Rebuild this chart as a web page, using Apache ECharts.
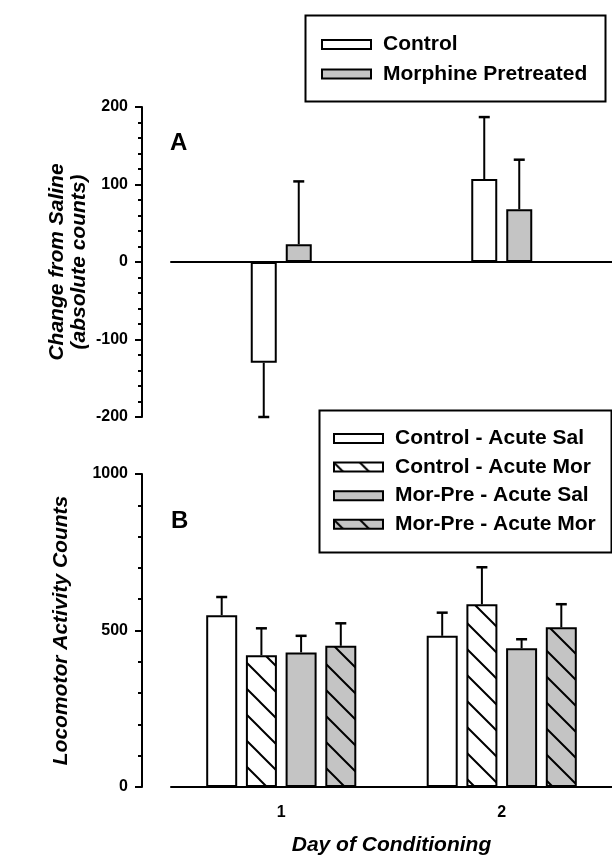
<!DOCTYPE html>
<html>
<head>
<meta charset="utf-8">
<script src="https://cdn.jsdelivr.net/npm/echarts@6/dist/echarts.min.js"></script>
<style>html,body{margin:0;padding:0;background:#fff;}#c{width:612px;height:857px;}</style>
</head>
<body>
<div id="c"></div>
<script>
// ---- data ----
const days = ['1', '2'];
// Panel A: change from saline (absolute counts)
const aControl = [-130, 107];
const aControlErr = [70, 80];
const aMorphine = [23, 68];
const aMorphineErr = [81, 64];
// Panel B: locomotor activity counts
const bCtrlSal = [549, 483];
const bCtrlSalErr = [58, 74];
const bCtrlMor = [421, 584];
const bCtrlMorErr = [86, 118];
const bMorSal = [430, 443];
const bMorSalErr = [53, 29];
const bMorMor = [451, 510];
const bMorMorErr = [72, 74];
const yTicksA = [-200, -100, 0, 100, 200];
const yTicksB = [0, 500, 1000];

const FONT = '"Liberation Sans", Arial, Helvetica, sans-serif';
const GRAY = '#c4c4c4';

function hatch(bg) {
  const s = 26;
  const c = document.createElement('canvas');
  c.width = s; c.height = s;
  const g = c.getContext('2d');
  g.fillStyle = bg; g.fillRect(0, 0, s, s);
  g.strokeStyle = '#000'; g.lineWidth = 2;
  g.beginPath();
  g.moveTo(-4, -4); g.lineTo(s + 4, s + 4);
  g.moveTo(-6, s - 6); g.lineTo(6, s + 6);
  g.moveTo(s - 6, -6); g.lineTo(s + 6, 6);
  g.stroke();
  return { image: c, repeat: 'repeat' };
}

const axisLineStyle = { color: '#000', width: 2 };
const tickLabel = { fontFamily: FONT, fontSize: 16, fontWeight: 'bold', color: '#000' };
const titleStyle = { fontFamily: FONT, fontSize: 21, fontWeight: 'bold', fontStyle: 'italic', color: '#000', lineHeight: 22 };

const A_W = 26, A_GAP = 9, B_W = 31, B_GAP = 8.7;

function barSeries(name, gi, values, color, w, gap) {
  return {
    name: name, type: 'bar', xAxisIndex: gi, yAxisIndex: gi, data: values,
    barWidth: w, barGap: (gap / w * 100) + '%',
    itemStyle: { color: color, borderColor: '#000', borderWidth: 2 },
    z: 2
  };
}

function errSeries(gi, values, errs, idx, n, w, gap) {
  return {
    type: 'custom', xAxisIndex: gi, yAxisIndex: gi, z: 3,
    data: values.map((v, i) => [i, v, errs[i]]),
    renderItem: function (params, api) {
      const cat = api.value(0), v = api.value(1), e = api.value(2);
      const total = n * w + (n - 1) * gap;
      const dx = -total / 2 + idx * (w + gap) + w / 2;
      const p0 = api.coord([cat, v]);
      const p1 = api.coord([cat, v + (v < 0 ? -e : e)]);
      const x = p0[0] + dx;
      return {
        type: 'group', children: [
          { type: 'line', shape: { x1: x, y1: p0[1], x2: x, y2: p1[1] }, style: { stroke: '#000', lineWidth: 2 } },
          { type: 'line', shape: { x1: x - 5.5, y1: p1[1], x2: x + 5.5, y2: p1[1] }, style: { stroke: '#000', lineWidth: 2.5 } }
        ]
      };
    }
  };
}

const legendText = { fontFamily: FONT, fontSize: 21, fontWeight: 'bold', color: '#000', lineHeight: 20, padding: [0, 0, 0, 7] };

const option = {
  animation: false,
  backgroundColor: '#fff',
  grid: [
    { left: 171, top: 107, width: 448, height: 310 },
    { left: 171, top: 474, width: 448, height: 314 }
  ],
  xAxis: [
    { type: 'category', gridIndex: 0, data: days,
      axisLine: { onZero: true, lineStyle: axisLineStyle },
      axisTick: { show: false }, axisLabel: { show: false }, splitLine: { show: false } },
    { type: 'category', gridIndex: 1, data: days,
      axisLine: { lineStyle: axisLineStyle },
      axisTick: { alignWithLabel: true, length: 7, lineStyle: { color: '#000', width: 2 } },
      axisLabel: Object.assign({ margin: 18 }, tickLabel),
      name: 'Day of Conditioning', nameLocation: 'middle', nameGap: 47, nameMoveOverlap: false, nameTextStyle: titleStyle }
  ],
  yAxis: [
    { type: 'value', gridIndex: 0, min: yTicksA[0], max: yTicksA[yTicksA.length - 1], interval: 100, offset: 29,
      axisLine: { show: true, lineStyle: axisLineStyle },
      axisTick: { show: true, length: 7, lineStyle: { color: '#000', width: 2 } },
      minorTick: { show: true, splitNumber: 5, length: 4, lineStyle: { color: '#000', width: 2 } },
      splitLine: { show: false }, minorSplitLine: { show: false },
      axisLabel: Object.assign({ margin: 14, formatter: v => String(v) }, tickLabel),
      name: 'Change from Saline\n(absolute counts)', nameLocation: 'middle', nameGap: 52, nameMoveOverlap: false, nameTextStyle: titleStyle },
    { type: 'value', gridIndex: 1, min: yTicksB[0], max: yTicksB[yTicksB.length - 1], interval: 500, offset: 29,
      axisLine: { show: true, lineStyle: axisLineStyle },
      axisTick: { show: true, length: 7, lineStyle: { color: '#000', width: 2 } },
      minorTick: { show: true, splitNumber: 5, length: 4, lineStyle: { color: '#000', width: 2 } },
      splitLine: { show: false }, minorSplitLine: { show: false },
      axisLabel: Object.assign({ margin: 14, formatter: v => String(v) }, tickLabel),
      name: 'Locomotor Activity Counts', nameLocation: 'middle', nameGap: 70, nameMoveOverlap: false, nameTextStyle: titleStyle }
  ],
  legend: [
    { data: ['Control', 'Morphine Pretreated'], orient: 'vertical', left: 321, top: 34, padding: 0,
      itemWidth: 49, itemHeight: 9, itemGap: 8.4, icon: 'rect', selectedMode: false, textStyle: legendText },
    { data: ['Control - Acute Sal', 'Control - Acute Mor', 'Mor-Pre - Acute Sal', 'Mor-Pre - Acute Mor'],
      orient: 'vertical', left: 333, top: 428, padding: 0,
      itemWidth: 49, itemHeight: 9, itemGap: 7.6, icon: 'rect', selectedMode: false, textStyle: legendText }
  ],
  graphic: [
    { type: 'rect', left: 303, top: 13, shape: { width: 300, height: 86 }, style: { fill: 'none', stroke: '#000', lineWidth: 2 } },
    { type: 'rect', left: 317, top: 408, shape: { width: 292, height: 142 }, style: { fill: 'none', stroke: '#000', lineWidth: 2 } },
    { type: 'text', left: 170, top: 131, style: { text: 'A', font: 'bold 24px ' + FONT, fill: '#000' } },
    { type: 'text', left: 171, top: 509, style: { text: 'B', font: 'bold 24px ' + FONT, fill: '#000' } }
  ],
  series: [
    barSeries('Control', 0, aControl, '#fff', A_W, A_GAP),
    barSeries('Morphine Pretreated', 0, aMorphine, GRAY, A_W, A_GAP),
    errSeries(0, aControl, aControlErr, 0, 2, A_W, A_GAP),
    errSeries(0, aMorphine, aMorphineErr, 1, 2, A_W, A_GAP),
    barSeries('Control - Acute Sal', 1, bCtrlSal, '#fff', B_W, B_GAP),
    barSeries('Control - Acute Mor', 1, bCtrlMor, hatch('#fff'), B_W, B_GAP),
    barSeries('Mor-Pre - Acute Sal', 1, bMorSal, GRAY, B_W, B_GAP),
    barSeries('Mor-Pre - Acute Mor', 1, bMorMor, hatch(GRAY), B_W, B_GAP),
    errSeries(1, bCtrlSal, bCtrlSalErr, 0, 4, B_W, B_GAP),
    errSeries(1, bCtrlMor, bCtrlMorErr, 1, 4, B_W, B_GAP),
    errSeries(1, bMorSal, bMorSalErr, 2, 4, B_W, B_GAP),
    errSeries(1, bMorMor, bMorMorErr, 3, 4, B_W, B_GAP)
  ]
};

const chart = echarts.init(document.getElementById('c'), null, { renderer: 'canvas' });
chart.setOption(option);
</script>
</body>
</html>
